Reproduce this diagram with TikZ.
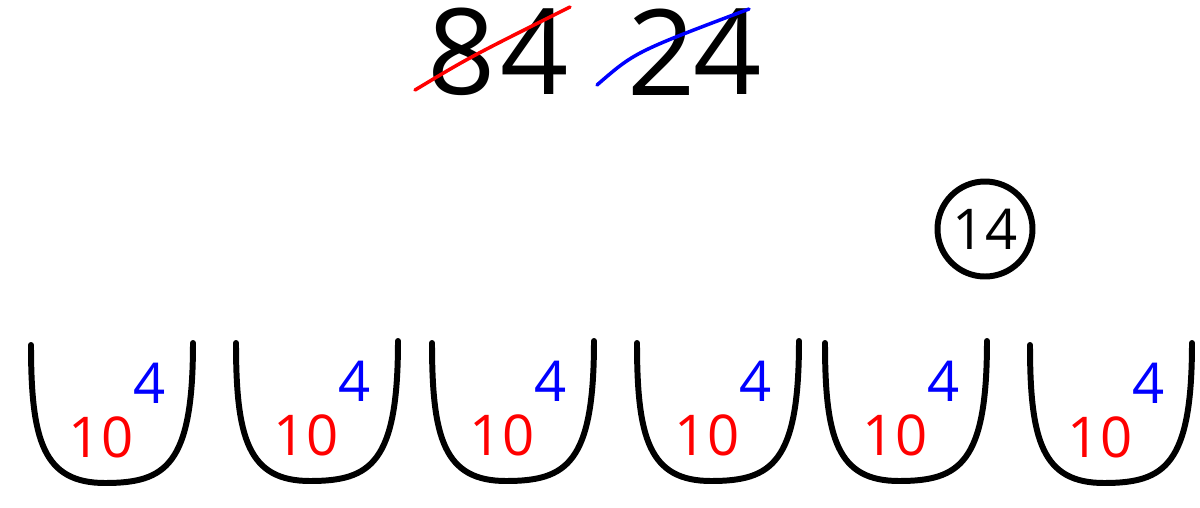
\documentclass[tikz,border=0pt]{standalone}
\usepackage{fontspec}
\setmainfont{Open Sans}
\usetikzlibrary{positioning}

\begin{document}
\begin{tikzpicture}[
            cup/.style={draw, line width=1.7pt, line cap=round},
            bigdigit/.style={inner sep=0pt, font=\fontsize{34}{38}\selectfont},
            cupdigit/.style={inner sep=0pt, font=\fontsize{16}{18}\selectfont},
            reddigit/.style={cupdigit, text=red},
            bluedigit/.style={cupdigit, text=blue},
            strike/.style={line width=1pt, line cap=round},
            ]

            \useasboundingbox (0,0) rectangle (12,5.07);

            % the two numbers at the top
            \node[bigdigit] (eight) at (4.62,4.55) {8};
            \node[bigdigit] (fourA) at (5.35,4.55) {4};
            \node[bigdigit] (two) at (6.62,4.55) {2};
            \node[bigdigit] (fourB) at (7.28,4.55) {4};

            \coordinate (redA) at (4.15,4.17);
            \coordinate (redB) at (5.70,5.00);
            \coordinate (blueA) at (5.97,4.22);
            \coordinate (blueB) at (7.49,4.98);
            \draw[strike, red] (redA) .. controls (4.7,4.5) .. (redB);
            \draw[strike, blue] (blueA) .. controls (6.35,4.55) .. (blueB);

            % the circled number
            \node[circle, draw, line width=1.7pt, minimum size=0.95cm, inner sep=0pt,
                  font=\fontsize{16}{18}\selectfont] (ring) at (9.85,2.78) {14};

            % six cups
            \foreach \cx/\cy [count=\i] in {0.31/1.62, 2.36/1.64, 4.32/1.64, 6.37/1.64, 8.25/1.64, 10.30/1.62} {
                \begin{scope}[shift={(\cx,\cy)}]
                    \draw[cup] (0,0) .. controls (0,-0.95) and (0.12,-1.38) .. (0.74,-1.38)
                        .. controls (1.35,-1.38) and (1.62,-1.2) .. (1.62,0.02);
                    \node[reddigit] (ten\i) at (0.70,-0.92) {10};
                    \node[bluedigit] (four\i) at (1.19,-0.38) {4};
                \end{scope}
            }

        \end{tikzpicture}
\end{document}
